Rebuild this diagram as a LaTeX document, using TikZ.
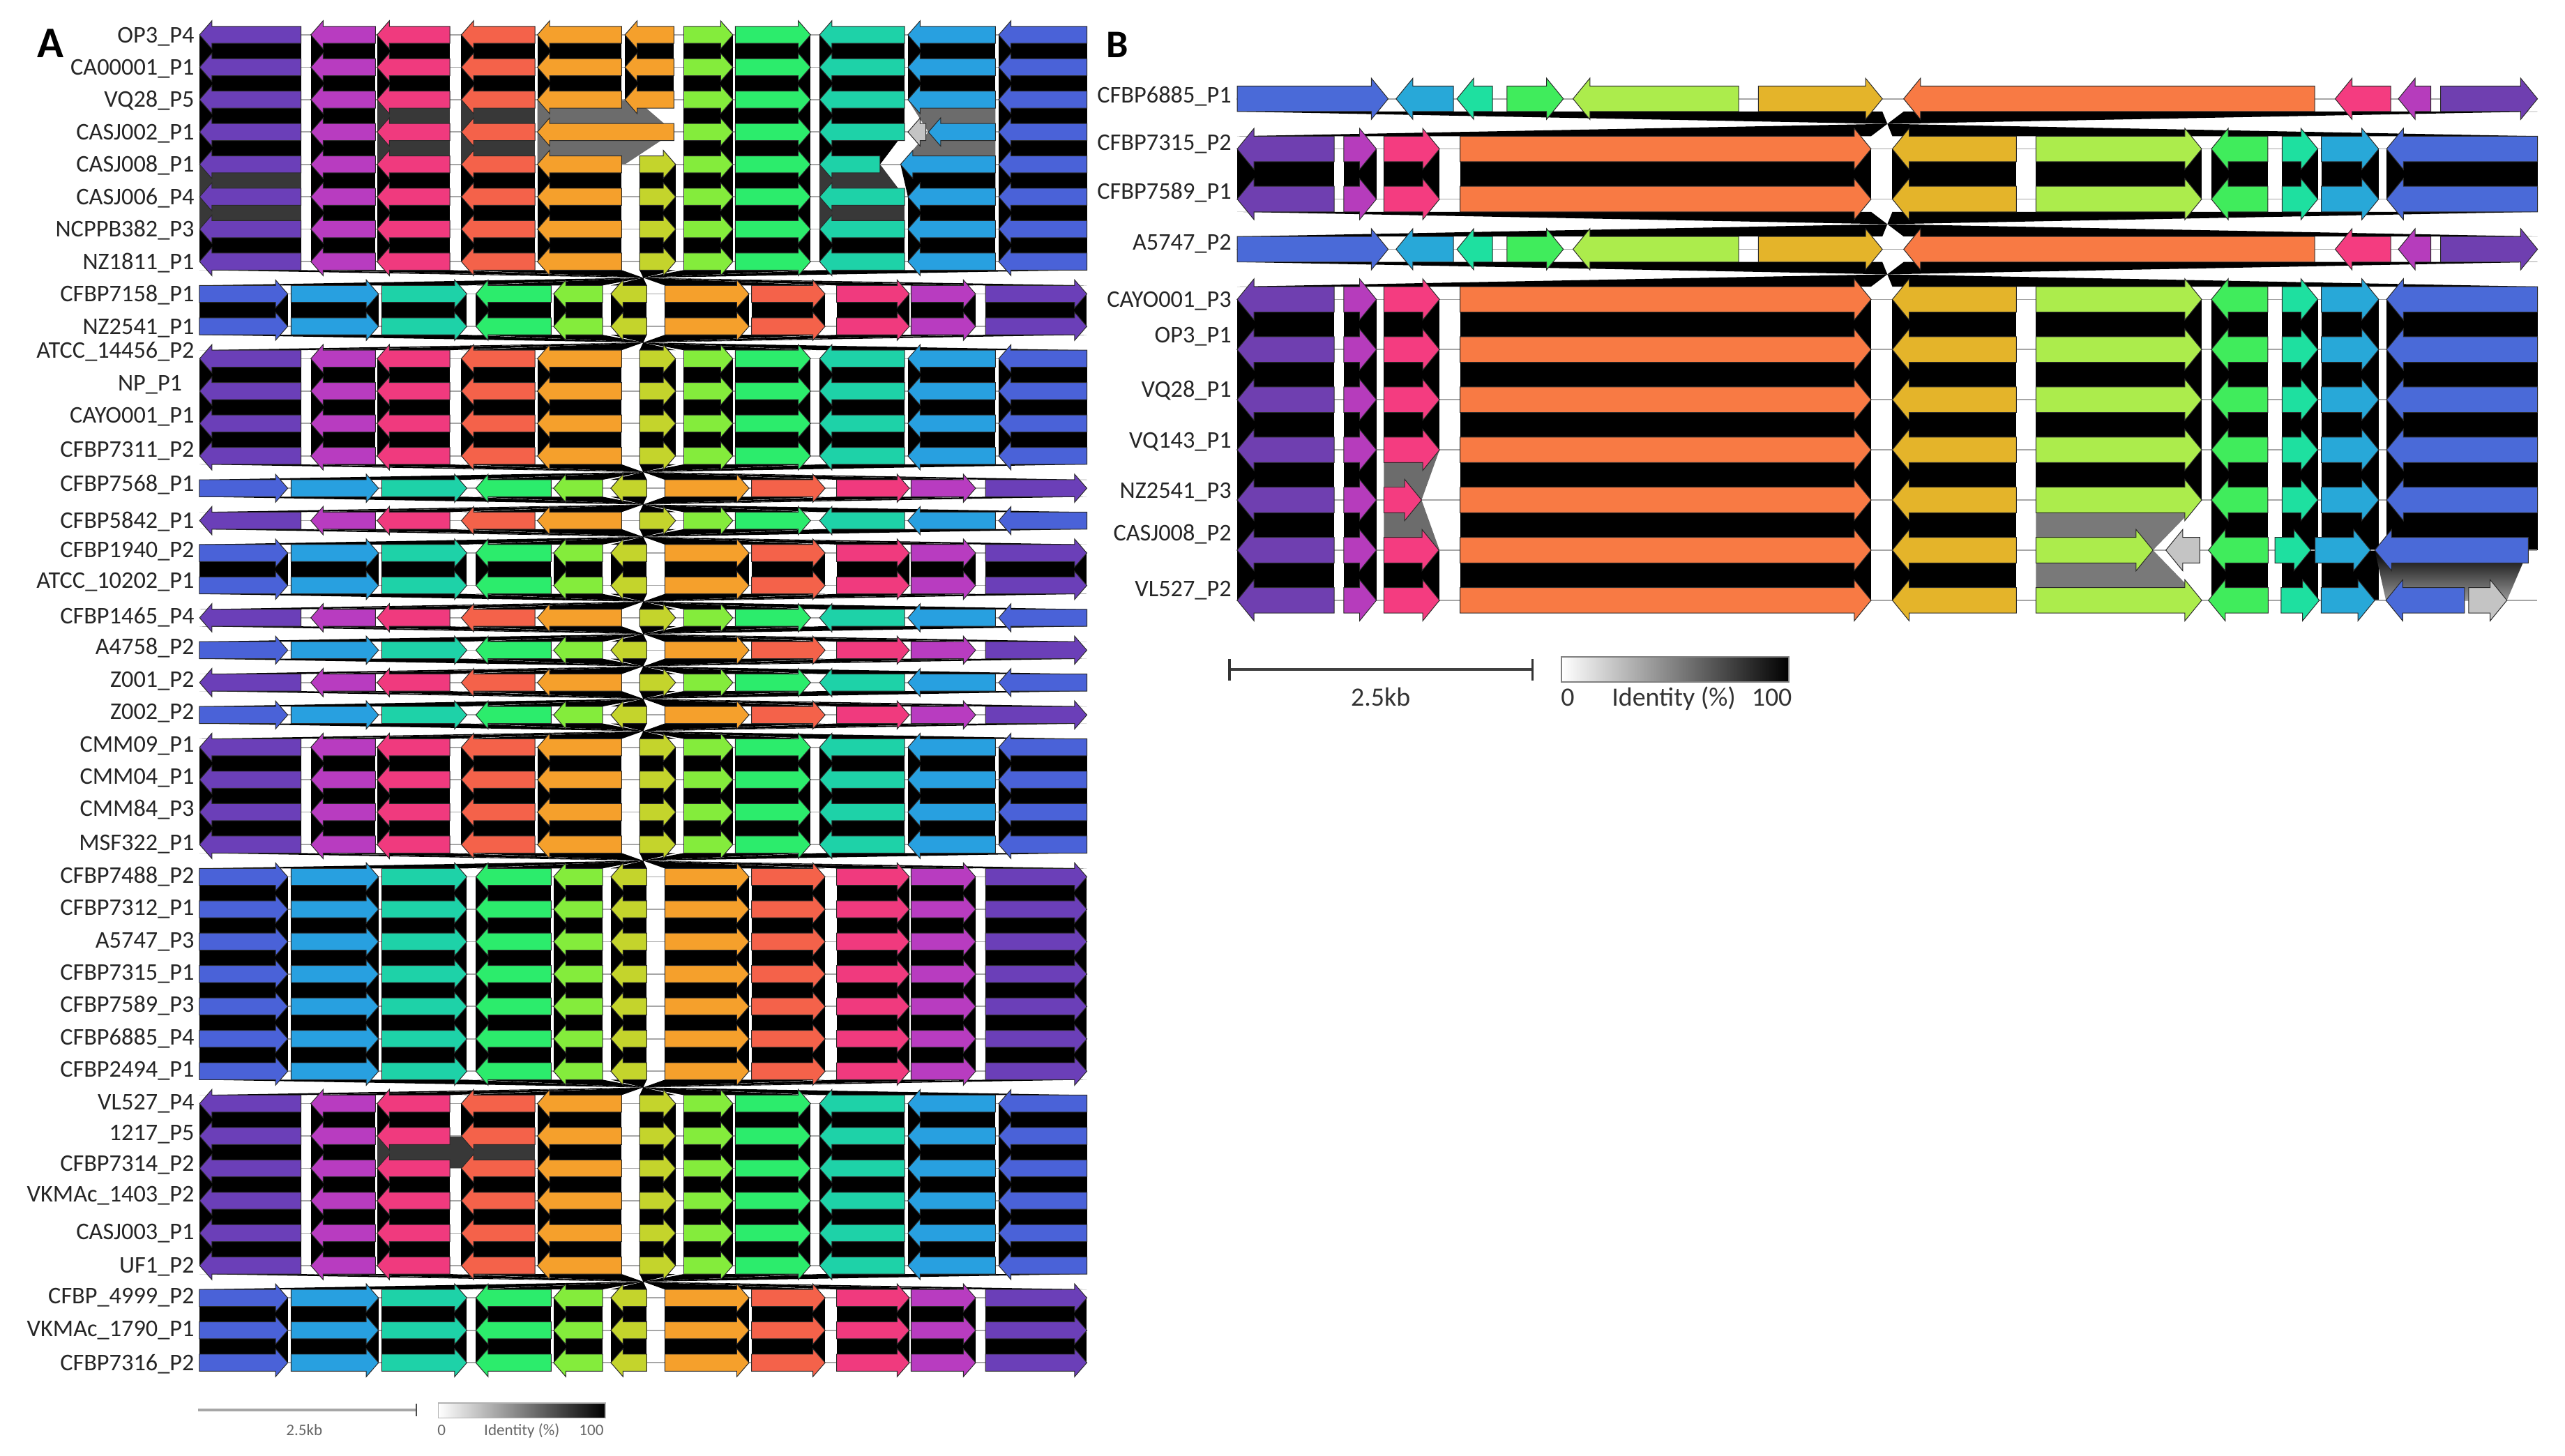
\documentclass[tikz,border=0pt]{standalone}
\usepackage{fontspec}
\setmainfont{Carlito}

% gene colours, panel A
\definecolor{apurple}{HTML}{6B3FB8}
\definecolor{amagenta}{HTML}{B83CC0}
\definecolor{apink}{HTML}{F03A7E}
\definecolor{ared}{HTML}{F4624A}
\definecolor{aorange}{HTML}{F5A02C}
\definecolor{aolive}{HTML}{C4D42C}
\definecolor{alime}{HTML}{84EC3C}
\definecolor{agreen}{HTML}{2CEC6C}
\definecolor{ateal}{HTML}{1ED2A8}
\definecolor{ablue}{HTML}{28A0E0}
\definecolor{aindigo}{HTML}{4A62D8}
% gene colours, panel B
\definecolor{bpurple}{HTML}{6F3FB0}
\definecolor{bmagenta}{HTML}{B63CBC}
\definecolor{bpink}{HTML}{F43C80}
\definecolor{bred}{HTML}{F87A44}
\definecolor{bgold}{HTML}{E4B42A}
\definecolor{blime}{HTML}{ACEC4C}
\definecolor{bgreen}{HTML}{40EC5C}
\definecolor{bteal}{HTML}{1EE0A0}
\definecolor{bblue}{HTML}{28A8D8}
\definecolor{bindigo}{HTML}{4A6AD8}
% links and outlines
\definecolor{gedge}{HTML}{2A2A2A}
\definecolor{dgrey}{HTML}{383838}
\definecolor{mgrey}{HTML}{6C6C6C}
\definecolor{lgrey}{HTML}{C4C4C4}

% one gene arrow: left x, right x, y, L or R, colour
\newcommand{\gene}[5]{%
  \if R#4
    \path[genebox, fill=#5] (#1,#3-\bh) -- (#2-\hl,#3-\bh) -- (#2-\hl,#3-\hh) -- (#2,#3)
      -- (#2-\hl,#3+\hh) -- (#2-\hl,#3+\bh) -- (#1,#3+\bh) -- cycle;
  \else
    \path[genebox, fill=#5] (#2,#3-\bh) -- (#1+\hl,#3-\bh) -- (#1+\hl,#3-\hh) -- (#1,#3)
      -- (#1+\hl,#3+\hh) -- (#1+\hl,#3+\bh) -- (#2,#3+\bh) -- cycle;
  \fi}

% a row of genes: y, flipped (1) or not (0), gene list
\newcommand{\generow}[3]{%
  \foreach \xa/\xb/\dr/\gc in #3 {
    \ifnum#2=1
      \pgfmathsetmacro\ma{\msum-\xb}\pgfmathsetmacro\mb{\msum-\xa}
      \if L\dr \gene{\ma}{\mb}{#1}{R}{\gc}\else \gene{\ma}{\mb}{#1}{L}{\gc}\fi
    \else
      \gene{\xa}{\xb}{#1}{\dr}{\gc}
    \fi}}

% straight links between two rows of the same orientation
\newcommand{\bandrect}[4]{%
  \foreach \xa/\xb/\dr/\gc in #4 {
    \ifnum#3=1
      \pgfmathsetmacro\ma{\msum-\xb}\pgfmathsetmacro\mb{\msum-\xa}
    \else
      \let\ma\xa \let\mb\xb
    \fi
    \fill[black] (\ma,#1) rectangle (\mb,#2);}}

% crossed links between two rows of opposite orientation
\newcommand{\bandcross}[4]{%
  \foreach \xa/\xb/\dr/\gc in #4 {
    \ifnum#3=1
      \pgfmathsetmacro\ma{\msum-\xb}\pgfmathsetmacro\mb{\msum-\xa}
    \else
      \let\ma\xa \let\mb\xb
    \fi
    \pgfmathsetmacro\na{\msum-\mb}\pgfmathsetmacro\nb{\msum-\ma}
    \fill[black] (\ma,#1+\bh) -- (\mb,#1+\bh) -- (\na,#2-\bh) -- (\nb,#2-\bh) -- cycle;}}

% links given one by one: top left/right, bottom left/right, colour
\newcommand{\bandlist}[3]{%
  \foreach \ta/\tb/\ba/\bb/\gc in {#3} {
    \fill[\gc] (\ta,#1) -- (\tb,#1) -- (\bb,#2) -- (\ba,#2) -- cycle;}}

\def\agenes{122/184/L/apurple, 190/229.5/L/amagenta, 230.5/275/L/apink, 282/327/L/ared,
  328.5/380/L/aorange, 391/413/R/aolive, 418/448/R/alime, 449.5/495.5/R/agreen,
  501/553/L/ateal, 555/608.5/L/ablue, 610.5/664.5/L/aindigo}
\def\agenestop{122/184/L/apurple, 190/229.5/L/amagenta, 230.5/275/L/apink, 282/327/L/ared,
  328.5/380/L/aorange, 382/412/L/aorange, 418/448/R/alime, 449.5/495.5/R/agreen,
  501/553/L/ateal, 555/608.5/L/ablue, 610.5/664.5/L/aindigo}
\def\agenesfour{122/184/L/apurple, 190/229.5/L/amagenta, 230.5/275/L/apink, 282/327/L/ared,
  328.5/412/L/aorange, 418/448/R/alime, 449.5/495.5/R/agreen,
  501/553/L/ateal, 555/566/L/lgrey, 567.5/608.5/L/ablue, 610.5/664.5/L/aindigo}
\def\agenesfive{122/184/L/apurple, 190/229.5/L/amagenta, 230.5/275/L/apink, 282/327/L/ared,
  328.5/380/L/aorange, 391/413/R/aolive, 418/448/R/alime, 449.5/495.5/R/agreen,
  501/538/L/ateal, 550.5/608.5/L/ablue, 610.5/664.5/L/aindigo}
% matched stretches used for the crossed links
\def\alinks{122/184/L/black, 190/275/L/black, 282/380/L/black, 391/413/R/black,
  418/495.5/R/black, 501/664.5/L/black}
\def\aori{0,0,0,0,0,0,0,0,1,1,0,0,0,0,1,0,1,1,0,1,0,1,0,0,0,0,1,1,1,1,1,1,1,0,0,0,0,0,0,1,1,1}

\def\bgenes{756.3/815.6/L/bpurple, 821.5/841.4/R/bmagenta, 846/880/R/bpink, 892.5/1143.8/R/bred,
  1156.8/1232.6/L/bgold, 1244.6/1345.9/R/blime, 1351.8/1386.3/L/bgreen, 1395.1/1416.9/R/bteal,
  1419/1454.1/R/bblue, 1458.9/1551.2/L/bindigo}
\def\bgenesnine{756.3/815.6/L/bpurple, 821.5/841.4/R/bmagenta, 846/869/R/bpink, 892.5/1143.8/R/bred,
  1156.8/1232.6/L/bgold, 1244.6/1345.9/R/blime, 1351.8/1386.3/L/bgreen, 1395.1/1416.9/R/bteal,
  1419/1454.1/R/bblue, 1458.9/1551.2/L/bindigo}
\def\bgenesten{756.3/815.6/L/bpurple, 821.5/841.4/R/bmagenta, 846/879.6/R/bpink, 892.5/1143.8/R/bred,
  1156.8/1232.6/L/bgold, 1244.6/1316.1/R/blime, 1324/1344.8/L/lgrey, 1350/1386.5/L/bgreen,
  1390.7/1412.6/R/bteal, 1415.2/1449.1/R/bblue, 1451.7/1545.6/L/bindigo}
\def\bgeneseleven{756.3/815.6/L/bpurple, 821.5/841.4/R/bmagenta, 846/880/R/bpink, 892.5/1143.8/R/bred,
  1156.8/1232.6/L/bgold, 1244.6/1345.9/R/blime, 1350/1386.5/L/bgreen, 1394.4/1417.8/R/bteal,
  1418.9/1451.7/R/bblue, 1458.5/1506.5/L/bindigo, 1509.1/1532.5/R/lgrey}
\def\blinks{756.3/1143.8/R/black, 1156.8/1551.2/L/black}
\def\bori{1,0,0,1,0,0,0,0,0,0,0}

\begin{document}
\begin{tikzpicture}[x={(0.025cm,0)}, y={(0,-0.025cm)},
  genebox/.style={draw=gedge, line width=0.3pt},
  backbone/.style={draw=gray!70, line width=0.5pt},
  rowlabel/.style={anchor=base east, inner sep=0pt, text=black!85, font=\fontsize{10.4}{12}\selectfont},
  panel/.style={anchor=base, inner sep=0pt, font=\fontsize{19}{19}\selectfont\bfseries},
  scaletext/.style={anchor=base, inner sep=0pt, text=black!60, font=\fontsize{7}{8}\selectfont},
  keytext/.style={anchor=base, inner sep=0pt, text=black!80, font=\fontsize{11.5}{13}\selectfont}]
\useasboundingbox (0,0) rectangle (1568,890);

% ---------- panel A: links ----------
\def\msum{786.4}
\def\bh{5.2}\def\hh{8.6}\def\hl{7.5}
\bandrect{21.3}{41.1}{0}{\agenestop}
\bandrect{41.1}{60.9}{0}{\agenestop}
\bandlist{60.9}{80.7}{122/184/122/184/black, 190/229.5/190/229.5/black, 230.5/275/230.5/275/dgrey,
  282/327/282/327/dgrey, 328.5/389/328.5/412/mgrey, 418/448/418/448/black, 449.5/495.5/449.5/495.5/black,
  501/553/501/553/black, 555/608.5/567.5/608.5/mgrey, 610.5/664.5/610.5/664.5/black}
\bandlist{80.7}{100.5}{122/184/122/184/black, 190/229.5/190/229.5/black, 230.5/275/230.5/275/dgrey,
  282/327/282/327/dgrey, 328.5/412/328.5/382/mgrey, 418/448/418/448/black, 449.5/495.5/449.5/495.5/black,
  501/553/501/538/black, 567.5/608.5/550.5/608.5/mgrey, 610.5/664.5/610.5/664.5/black}
\bandlist{100.5}{120.3}{122/184/122/184/dgrey, 190/229.5/190/229.5/black, 230.5/275/230.5/275/black,
  282/327/282/327/black, 328.5/380/328.5/380/black, 391/413/391/413/black, 418/448/418/448/black,
  449.5/495.5/449.5/495.5/black, 501/538/501/553/dgrey, 550.5/608.5/555/608.5/black,
  610.5/664.5/610.5/664.5/black}
\bandrect{120.3}{140.1}{0}{\agenes}
\fill[dgrey] (122,120.3) rectangle (184,140.1);
\fill[dgrey] (501,120.3) rectangle (553,140.1);
\foreach \ori [count=\rn, remember=\ori as \pori (initially 0)] in \aori {
  \ifnum\rn>7
    \pgfmathsetmacro\ry{21.3+19.8*(\rn-1)}
    \pgfmathsetmacro\py{\ry-19.8}
    \ifnum\ori=\pori
      \bandrect{\py}{\ry}{\ori}{\agenes}
    \else
      \bandcross{\py}{\ry}{\pori}{\alinks}
    \fi
  \fi}
\fill[dgrey] (230.5,694.5) rectangle (327,714.3);

% ---------- panel A: genes ----------
\foreach \ori [count=\rn] in \aori {
  \pgfmathsetmacro\ry{21.3+19.8*(\rn-1)}
  \draw[backbone] (122,\ry) -- (664.5,\ry);
  \ifnum\rn>5 \generow{\ry}{\ori}{\agenes}\fi}
\generow{21.3}{0}{\agenestop}
\generow{41.1}{0}{\agenestop}
\generow{60.9}{0}{\agenestop}
\generow{80.7}{0}{\agenesfour}
\generow{100.5}{0}{\agenesfive}

% row names, panel A
\foreach \lab/\dy [count=\rn] in {OP3\_P4/0, CA00001\_P1/0, VQ28\_P5/0, CASJ002\_P1/0, CASJ008\_P1/0,
  CASJ006\_P4/0, NCPPB382\_P3/0, NZ1811\_P1/0, CFBP7158\_P1/0, NZ2541\_P1/0, ATCC\_14456\_P2/-5,
  {NP\_P1\hphantom{0}}/-5, CAYO001\_P1/-5, CFBP7311\_P2/-4, CFBP7568\_P1/-3, CFBP5842\_P1/0,
  CFBP1940\_P2/-2, ATCC\_10202\_P1/-3, CFBP1465\_P4/-1, A4758\_P2/-2, Z001\_P2/-2, Z002\_P2/-2,
  CMM09\_P1/-2, CMM04\_P1/-2, CMM84\_P3/-2, MSF322\_P1/-1, CFBP7488\_P2/-1, CFBP7312\_P1/-1,
  A5747\_P3/-1, CFBP7315\_P1/-1, CFBP7589\_P3/-1, CFBP6885\_P4/-1, CFBP2494\_P1/-1, VL527\_P4/-1,
  1217\_P5/-2, CFBP7314\_P2/-3, VKMAc\_1403\_P2/-4, CASJ003\_P1/-1, UF1\_P2/0, CFBP\_4999\_P2/-1,
  VKMAc\_1790\_P1/-1, CFBP7316\_P2/0} {
  \pgfmathsetmacro\ly{21.3+19.8*(\rn-1)+\dy+4.7}
  \node[rowlabel] (la\rn) at (119,\ly) {\lab};}
\node[panel] (pa) at (31,35.1) {A};

% scale and identity key, panel A
\draw[gray!70, line width=1.2pt] (121,862) -- (254.5,862);
\draw[gray!60!black, line width=0.6pt] (254.5,858) -- (254.5,866);
\node[scaletext] (akb) at (186,877.5) {2.5kb};
\shade[left color=white, right color=black, draw=gray!60, line width=0.4pt] (268,857.7) rectangle (370,866.8);
\node[scaletext] (azero) at (270,877.5) {0};
\node[scaletext] (aid) at (319,877.5) {Identity (\%)};
\node[scaletext] (ahundred) at (361.5,877.5) {100};

% ---------- panel B: links ----------
\def\msum{2307.5}
\def\bh{7.8}\def\hh{12.6}\def\hl{10.3}
\foreach \ori [count=\rn, remember=\ori as \pori (initially 0)] in \bori {
  \ifnum\rn>1 \ifnum\rn<9
    \pgfmathsetmacro\ry{60.4+30.66*(\rn-1)}
    \pgfmathsetmacro\py{\ry-30.66}
    \ifnum\ori=\pori
      \bandrect{\py}{\ry}{\ori}{\bgenes}
    \else
      \bandcross{\py}{\ry}{\pori}{\blinks}
    \fi
  \fi\fi}
\bandrect{275.02}{305.68}{0}{\bgenes}
\fill[white] (842,275.02) rectangle (885,305.68);
\fill[mgrey] (846,275.02) -- (880,275.02) -- (869,305.68) -- (846,305.68) -- cycle;
\bandrect{305.68}{336.34}{0}{\bgenes}
\fill[white] (842,305.68) rectangle (885,336.34);
\fill[mgrey] (846,305.68) -- (869,305.68) -- (880,336.34) -- (846,336.34) -- cycle;
\fill[white] (1240,305.68) rectangle (1348,336.34);
\fill[gray!95!black] (1244.6,305.68) -- (1345.9,305.68) -- (1316.1,336.34) -- (1244.6,336.34) -- cycle;
\bandrect{336.34}{367}{0}{\bgenes}
\fill[white] (1240,336.34) rectangle (1348,367);
\fill[gray!95!black] (1244.6,336.34) -- (1316.1,336.34) -- (1345.9,367) -- (1244.6,367) -- cycle;
\fill[white] (1456,336.34) rectangle (1552,367);
\shade[top color=black, bottom color=gray!80] (1451.7,336.34) -- (1545.6,336.34) -- (1532.5,367) -- (1458.5,367) -- cycle;

% ---------- panel B: genes ----------
\foreach \ori [count=\rn] in \bori {
  \pgfmathsetmacro\ry{60.4+30.66*(\rn-1)}
  \draw[backbone] (756,\ry) -- (1551,\ry);
  \ifnum\rn<9 \generow{\ry}{\ori}{\bgenes}\fi}
\generow{305.68}{0}{\bgenesnine}
\generow{336.34}{0}{\bgenesten}
\generow{367}{0}{\bgeneseleven}

% row names, panel B
\foreach \lab/\ly [count=\rn] in {CFBP6885\_P1/58, CFBP7315\_P2/87, CFBP7589\_P1/117, A5747\_P2/148,
  CAYO001\_P3/183, OP3\_P1/205, VQ28\_P1/238, VQ143\_P1/269, NZ2541\_P3/300, CASJ008\_P2/326,
  VL527\_P2/360} {
  \node[rowlabel] (lb\rn) at (753,\ly+4.7) {\lab};}
\node[panel, font=\fontsize{17}{17}\selectfont\bfseries] (pb) at (683,35.2) {B};

% scale and identity key, panel B
\draw[black!75, line width=1pt] (751.6,409.3) -- (936.8,409.3);
\draw[black!80, line width=1pt] (751.6,402.9) -- (751.6,416.1);
\draw[black!80, line width=1pt] (936.8,402.9) -- (936.8,416.1);
\node[keytext] (bkb) at (844,431.5) {2.5kb};
\shade[left color=white, right color=black, draw=gray, line width=0.6pt] (954.7,401.5) rectangle (1093.7,417.1);
\node[keytext] (bzero) at (958.4,431.5) {0};
\node[keytext] (bid) at (1023.2,431.5) {Identity (\%)};
\node[keytext] (bhundred) at (1083.1,431.5) {100};
\end{tikzpicture}
\end{document}
